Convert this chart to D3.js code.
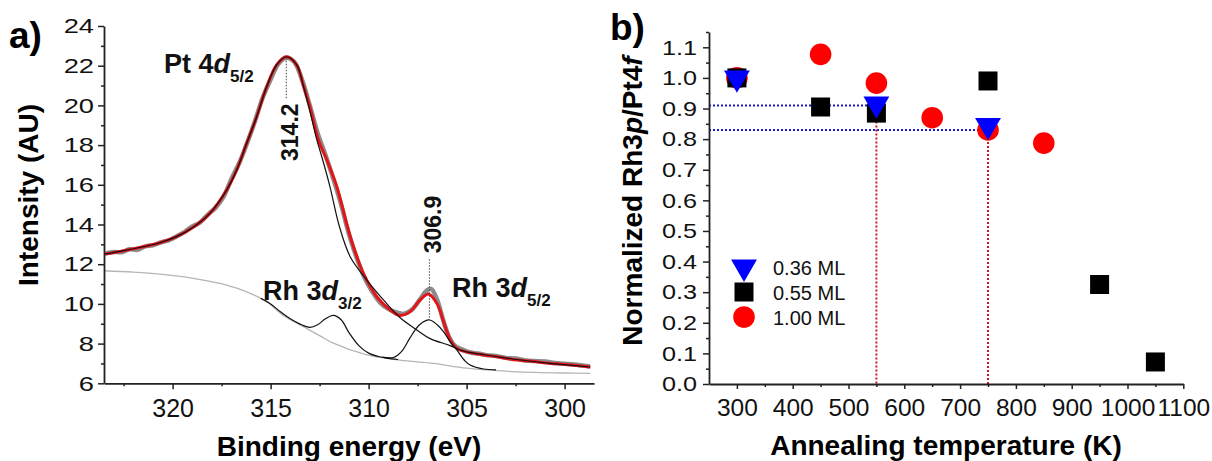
<!DOCTYPE html>
<html>
<head>
<meta charset="utf-8">
<script src="https://cdn.jsdelivr.net/npm/d3@7"></script>
<style>
  body { margin: 0; background: #fff; }
  svg { font-family: "Liberation Sans", Arial, sans-serif; }
</style>
</head>
<body>
<svg id="chart" width="1212" height="461"></svg>
<script>
// ---- panel a: XPS spectrum, points are [binding energy (eV), intensity (AU)]
const rawData = [
  [323.4, 12.55], [323.0, 12.62], [322.6, 12.6], [322.2, 12.75], [321.8, 12.72],
  [321.4, 12.9], [321.0, 12.95], [320.6, 13.1], [320.2, 13.2], [319.8, 13.4],
  [319.4, 13.62], [319.0, 13.9], [318.6, 14.1], [318.2, 14.5], [317.8, 14.85],
  [317.4, 15.4], [317.0, 16.3], [316.6, 17.1], [316.2, 18.1], [315.8, 19.2],
  [315.4, 20.4], [315.0, 21.3], [314.6, 22.1], [314.2, 22.4], [313.8, 22.2],
  [313.4, 21.3], [313.0, 20.0], [312.6, 18.6], [312.2, 17.5], [311.8, 16.3],
  [311.4, 15.0], [311.0, 13.5], [310.6, 12.3], [310.2, 11.3], [309.8, 10.6],
  [309.4, 10.05], [309.0, 9.75], [308.6, 9.58], [308.2, 9.5], [307.8, 9.7],
  [307.4, 10.2], [307.0, 10.7], [306.8, 10.75], [306.5, 10.2], [306.2, 9.2],
  [305.9, 8.35], [305.6, 7.9], [305.2, 7.7], [304.8, 7.55], [304.4, 7.5],
  [304.0, 7.42], [303.5, 7.38], [303.0, 7.28], [302.5, 7.25], [302.0, 7.15],
  [301.5, 7.12], [301.0, 7.1], [300.5, 7.02], [300.0, 6.98], [299.5, 6.95],
  [299.0, 6.88], [298.7, 6.85]
];
const fitEnvelope = [
  [323.5, 12.5], [322.5, 12.68], [321.5, 12.88], [320.65, 13.08], [319.8, 13.39],
  [318.95, 13.86], [318.1, 14.56], [317.24, 15.74], [316.73, 16.75], [316.22, 18.09],
  [315.71, 19.43], [315.2, 20.94], [314.69, 22.04], [314.2, 22.45], [313.67, 22.04],
  [313.33, 21.0], [312.99, 19.9], [312.56, 18.26], [312.13, 17.25], [311.62, 15.9],
  [311.11, 14.0], [310.78, 12.9], [310.27, 11.55], [309.58, 10.36], [308.9, 9.69],
  [308.39, 9.42], [307.88, 9.61], [307.37, 10.2], [306.95, 10.5], [306.52, 10.03],
  [306.09, 8.85], [305.84, 8.2], [305.5, 7.76], [305.16, 7.62], [304.14, 7.43],
  [303.45, 7.34], [302.43, 7.17], [301.75, 7.12], [300.73, 7.0], [300.05, 6.96],
  [298.69, 6.82]
];
const ptComponent = [
  [323.5, 12.5], [322.5, 12.68], [321.5, 12.88], [320.65, 13.08], [319.8, 13.39],
  [318.95, 13.86], [318.1, 14.56], [317.24, 15.74], [316.73, 16.75], [316.22, 18.09],
  [315.71, 19.43], [315.2, 20.94], [314.69, 22.04], [314.2, 22.45], [313.67, 22.04],
  [313.33, 21.0], [312.99, 19.7], [312.65, 18.3], [312.34, 17.25], [311.97, 15.9],
  [311.49, 13.9], [310.94, 12.38], [310.09, 11.2], [309.24, 10.2], [308.39, 9.3],
  [307.54, 8.69], [306.86, 8.25], [305.84, 7.9], [305.16, 7.62], [304.14, 7.45],
  [302.43, 7.2], [300.73, 7.0], [298.69, 6.82]
];
const rh32Component = [
  [315.5, 10.28], [315.0, 10.0], [314.5, 9.6], [314.0, 9.25], [313.5, 8.98],
  [313.0, 8.82], [312.6, 8.95], [312.2, 9.25], [311.8, 9.42], [311.4, 9.2],
  [311.0, 8.55], [310.5, 7.9], [310.0, 7.52], [309.5, 7.35], [309.0, 7.26],
  [308.5, 7.2]
];
const rh52Component = [
  [309.3, 7.32], [308.73, 7.3], [308.3, 7.62], [307.88, 8.3], [307.4, 8.95],
  [306.9, 9.19], [306.5, 8.95], [306.18, 8.6], [305.84, 8.1], [305.5, 7.68],
  [305.1, 7.15], [304.82, 6.92], [304.14, 6.72], [303.5, 6.68]
];
const shirleyBg = [
  [323.5, 11.67], [322.0, 11.6], [320.65, 11.5], [318.95, 11.29], [317.24, 10.95],
  [316.22, 10.61], [315.2, 10.11], [314.35, 9.42], [313.5, 8.95], [312.5, 8.4],
  [311.8, 8.02], [310.09, 7.43], [308.39, 7.17], [306.69, 7.0], [304.98, 6.76],
  [302.43, 6.58], [300.0, 6.52], [298.69, 6.5]
];
// peak position markers: dotted line span and where the rotated label starts
const peakLabels = ["314.2", "306.9"];
const peakEnergies = [314.2, 306.9];
const peakLineFrom = [22.4, 12.25];
const peakLineTo = [20.3, 9.19];
const peakLabelStart = [17.15, 12.55];
const peakLabelAnchor = ["end", "start"];
const peakLabelEnd = [20.1, 12.55];

const aXTicks = [320, 315, 310, 305, 300];
const aXMinor = [322.5, 317.5, 312.5, 307.5, 302.5];
const aYTicks = [6, 8, 10, 12, 14, 16, 18, 20, 22, 24];
const aYMinor = [7, 9, 11, 13, 15, 17, 19, 21, 23];

// ---- panel b: normalized Rh3p/Pt4f vs annealing temperature
const temps036 = [300, 550, 750];
const ratio036 = [1.0, 0.915, 0.845];
const temps055 = [300, 450, 550, 750, 950, 1050];
const ratio055 = [1.0, 0.905, 0.885, 0.99, 0.325, 0.072];
const temps100 = [300, 450, 550, 650, 750, 850];
const ratio100 = [1.0, 1.077, 0.983, 0.87, 0.83, 0.787];
const guideTemps = [550, 750];
const guideRatios = [0.91, 0.83];
const legendLabels = ["0.36 ML", "0.55 ML", "1.00 ML"];

const bXTicks = [300, 400, 500, 600, 700, 800, 900, 1000, 1100];
const bXMinor = [350, 450, 550, 650, 750, 850, 950, 1050];
const bYTicks = [0, 0.1, 0.2, 0.3, 0.4, 0.5, 0.6, 0.7, 0.8, 0.9, 1.0, 1.1];
const bYMinor = [0.05, 0.15, 0.25, 0.35, 0.45, 0.55, 0.65, 0.75, 0.85, 0.95, 1.05, 1.15];

const svg = d3.select("#chart");
const axisColor = "#222";

function styleAxis(g, fontSize) {
  g.select(".domain").attr("stroke", axisColor).attr("stroke-width", 1.8);
  g.selectAll(".tick line").attr("stroke", axisColor).attr("stroke-width", 1.5);
  g.selectAll("text").attr("fill", "#111").style("font-size", fontSize + "px");
}

// stretch y tick labels a bit sideways, like the original export
function widenLabels(g, k) {
  g.selectAll("text").each(function () {
    const w = this.getComputedTextLength();
    d3.select(this).attr("textLength", w * k).attr("lengthAdjust", "spacingAndGlyphs");
  });
}

// ================= panel a =================
const xa = d3.scaleLinear().domain([323.5, 298.5]).range([104, 594]);
const ya = d3.scaleLinear().domain([6, 24]).range([383.3, 26]);
const ga = svg.append("g").attr("class", "panel-a");

const lineA = d3.line()
  .x((d) => xa(d[0]))
  .y((d) => ya(d[1]))
  .curve(d3.curveCatmullRom.alpha(0.5));

ga.append("path").datum(shirleyBg)
  .attr("d", lineA).attr("fill", "none")
  .attr("stroke", "#b5b5b5").attr("stroke-width", 1.3);
ga.append("path").datum(rawData)
  .attr("d", lineA).attr("fill", "none")
  .attr("stroke", "#8c8c8c").attr("stroke-width", 4.5)
  .attr("stroke-linejoin", "round");
ga.append("path").datum(fitEnvelope)
  .attr("d", lineA).attr("fill", "none")
  .attr("stroke", "#e3151a").attr("stroke-width", 3);
[ptComponent, rh32Component, rh52Component].forEach((comp) => {
  ga.append("path").datum(comp)
    .attr("d", lineA).attr("fill", "none")
    .attr("stroke", "#111").attr("stroke-width", 1.2);
});

// peak markers
ga.selectAll(".peak-line")
  .data(peakEnergies)
  .join("line")
  .attr("class", "peak-line")
  .attr("x1", (d) => xa(d)).attr("x2", (d) => xa(d))
  .attr("y1", (d, i) => ya(peakLineFrom[i]))
  .attr("y2", (d, i) => ya(peakLineTo[i]))
  .attr("stroke", "#444").attr("stroke-width", 1)
  .attr("stroke-dasharray", "1.5,1.5");

ga.selectAll(".peak-label")
  .data(peakLabels)
  .join("text")
  .attr("class", "peak-label")
  .attr("transform", (d, i) => {
    const y = peakLabelAnchor[i] === "end" ? ya(peakLabelEnd[i]) : ya(peakLabelStart[i]);
    return `translate(${xa(peakEnergies[i]) + 12},${y}) rotate(-90)`;
  })
  .attr("text-anchor", (d, i) => peakLabelAnchor[i])
  .style("font-size", "23px")
  .style("font-weight", "bold")
  .attr("fill", "#111")
  .text((d) => d);

// axes
const axA_x = ga.append("g").attr("transform", "translate(0,383.3)")
  .call(d3.axisBottom(xa).tickValues(aXTicks).tickSize(6).tickSizeOuter(0).tickPadding(10));
styleAxis(axA_x, 25);
ga.append("g").attr("transform", "translate(0,383.3)")
  .call(d3.axisBottom(xa).tickValues(aXMinor).tickSize(3).tickFormat(""))
  .call((g) => { g.select(".domain").remove(); styleAxis(g, 10); });

const axA_y = ga.append("g").attr("transform", "translate(104,0)")
  .call(d3.axisLeft(ya).tickValues(aYTicks).tickSize(6).tickSizeOuter(0).tickPadding(4));
styleAxis(axA_y, 21);
widenLabels(axA_y, 1.3);
ga.append("g").attr("transform", "translate(104,0)")
  .call(d3.axisLeft(ya).tickValues(aYMinor).tickSize(3).tickFormat(""))
  .call((g) => { g.select(".domain").remove(); styleAxis(g, 10); });

// titles and labels
ga.append("text")
  .attr("x", 349).attr("y", 456)
  .attr("text-anchor", "middle")
  .style("font-size", "28px").style("font-weight", "bold")
  .text("Binding energy (eV)");
ga.append("text")
  .attr("transform", "translate(38,195) rotate(-90)")
  .attr("text-anchor", "middle")
  .style("font-size", "28px").style("font-weight", "bold")
  .text("Intensity (AU)");
ga.append("text")
  .attr("x", 9).attr("y", 48)
  .style("font-size", "37px").style("font-weight", "bold")
  .text("a)");

function orbitalLabel(g, x, y, main, sub) {
  const t = g.append("text").attr("x", x).attr("y", y)
    .style("font-size", "27px").style("font-weight", "bold").attr("fill", "#111");
  t.append("tspan").text(main);
  t.append("tspan").style("font-style", "italic").text("d");
  t.append("tspan").attr("dy", 9).style("font-size", "17px").text(sub);
}
orbitalLabel(ga, 164, 73, "Pt 4", "5/2");
orbitalLabel(ga, 263, 300, "Rh 3", "3/2");
orbitalLabel(ga, 452, 297, "Rh 3", "5/2");

// ================= panel b =================
const xb = d3.scaleLinear().domain([250, 1100]).range([709, 1183.3]);
const yb = d3.scaleLinear().domain([0, 1.15]).range([384, 32]);
const gb = svg.append("g").attr("class", "panel-b");

// guide lines
gb.selectAll(".guide-h")
  .data(guideTemps)
  .join("line")
  .attr("class", "guide-h")
  .attr("x1", xb(250)).attr("x2", (d) => xb(d))
  .attr("y1", (d, i) => yb(guideRatios[i])).attr("y2", (d, i) => yb(guideRatios[i]))
  .attr("stroke", "#1a1acc").attr("stroke-width", 2)
  .attr("stroke-dasharray", "2,2");
gb.selectAll(".guide-v")
  .data(guideTemps)
  .join("line")
  .attr("class", "guide-v")
  .attr("x1", (d) => xb(d)).attr("x2", (d) => xb(d))
  .attr("y1", (d, i) => yb(guideRatios[i])).attr("y2", yb(0))
  .attr("stroke", "#cc1a1a").attr("stroke-width", 2)
  .attr("stroke-dasharray", "2,2");

const circleR = 10.8;
const squareSym = d3.symbol(d3.symbolSquare, 361);
const triSym = d3.symbol(d3.symbolTriangle, 290);

gb.selectAll(".pt100")
  .data(temps100)
  .join("circle")
  .attr("class", "pt100")
  .attr("cx", (d) => xb(d)).attr("cy", (d, i) => yb(ratio100[i]))
  .attr("r", circleR).attr("fill", "#f00");
gb.selectAll(".pt055")
  .data(temps055)
  .join("path")
  .attr("class", "pt055")
  .attr("d", squareSym)
  .attr("transform", (d, i) => `translate(${xb(d)},${yb(ratio055[i])})`)
  .attr("fill", "#000");
gb.selectAll(".pt036")
  .data(temps036)
  .join("path")
  .attr("class", "pt036")
  .attr("d", triSym)
  .attr("transform", (d, i) => `translate(${xb(d)},${yb(ratio036[i])}) rotate(180)`)
  .attr("fill", "#0000ff");

// axes
const axB_x = gb.append("g").attr("transform", "translate(0,384)")
  .call(d3.axisBottom(xb).tickValues(bXTicks).tickSize(5).tickSizeOuter(0).tickPadding(10)
    .tickFormat(d3.format("d")));
styleAxis(axB_x, 24.5);
gb.append("g").attr("transform", "translate(0,384)")
  .call(d3.axisBottom(xb).tickValues(bXMinor).tickSize(3).tickFormat(""))
  .call((g) => { g.select(".domain").remove(); styleAxis(g, 10); });

const axB_y = gb.append("g").attr("transform", "translate(709,0)")
  .call(d3.axisLeft(yb).tickValues(bYTicks).tickSize(6).tickSizeOuter(0).tickPadding(6)
    .tickFormat(d3.format(".1f")));
styleAxis(axB_y, 21);
widenLabels(axB_y, 1.2);
gb.append("g").attr("transform", "translate(709,0)")
  .call(d3.axisLeft(yb).tickValues(bYMinor).tickSize(3).tickFormat(""))
  .call((g) => { g.select(".domain").remove(); styleAxis(g, 10); });

// legend
const legendY = [267, 292, 317];
const legend = gb.append("g").attr("class", "legend");
legend.append("path").attr("d", triSym)
  .attr("transform", `translate(744,${legendY[0]}) rotate(180)`).attr("fill", "#0000ff");
legend.append("path").attr("d", squareSym)
  .attr("transform", `translate(744,${legendY[1]})`).attr("fill", "#000");
legend.append("circle").attr("cx", 744).attr("cy", legendY[2]).attr("r", circleR).attr("fill", "#f00");
legend.selectAll(".legend-label")
  .data(legendLabels)
  .join("text")
  .attr("class", "legend-label")
  .attr("x", 773).attr("y", (d, i) => legendY[i] + 7.5)
  .style("font-size", "20px").attr("fill", "#111")
  .text((d) => d);

// titles
gb.append("text")
  .attr("x", 946).attr("y", 455)
  .attr("text-anchor", "middle")
  .style("font-size", "28px").style("font-weight", "bold")
  .text("Annealing temperature (K)");
const yTitle = gb.append("text")
  .attr("transform", "translate(642,201) rotate(-90)")
  .attr("text-anchor", "middle")
  .style("font-size", "28px").style("font-weight", "bold");
yTitle.append("tspan").text("Normalized Rh3");
yTitle.append("tspan").style("font-style", "italic").text("p");
yTitle.append("tspan").text("/Pt4");
yTitle.append("tspan").style("font-style", "italic").text("f");
gb.append("text")
  .attr("x", 610).attr("y", 40)
  .style("font-size", "37px").style("font-weight", "bold")
  .text("b)");
</script>
</body>
</html>
